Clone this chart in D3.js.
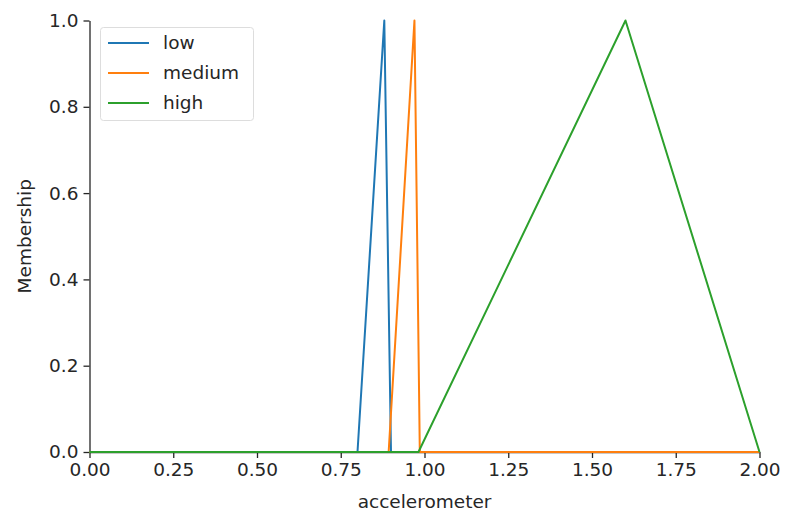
<!DOCTYPE html>
<meta charset="utf-8">
<head>
    <title>Membership</title>
    <style>
        body { margin: 0; background: #fff; }
        svg { display: block; font-family: "DejaVu Sans", sans-serif; }
    </style>
</head>
<body>
<svg width="788" height="518"></svg>
<script src="https://d3js.org/d3.v7.min.js"></script>
<script>

    // breakpoints of each membership function (x, membership)
    var lowX = [0, 0.8, 0.88, 0.9, 2.0];
    var lowY = [0, 0, 1, 0, 0];
    var mediumX = [0, 0.893, 0.97, 0.986, 2.0];
    var mediumY = [0, 0, 1, 0, 0];
    var highX = [0, 0.982, 1.6, 2.0];
    var highY = [0, 0, 1, 0];

    var names = ["low", "medium", "high"];
    var colors = ["#1f77b4", "#ff7f0e", "#2ca02c"];
    var xTicks = [0, 0.25, 0.5, 0.75, 1.0, 1.25, 1.5, 1.75, 2.0];
    var yTicks = [0, 0.2, 0.4, 0.6, 0.8, 1.0];

    var svg = d3.select("svg");
    var fontSize = 18.5;
    var plotLeft = 89.5, plotRight = 759.5, plotTop = 20.5, plotBottom = 452;

    var x = d3.scaleLinear().domain([0, 2]).range([plotLeft, plotRight]);
    var y = d3.scaleLinear().domain([0, 1]).range([plotBottom, plotTop]);

    var series = [
        {xs: lowX, ys: lowY},
        {xs: mediumX, ys: mediumY},
        {xs: highX, ys: highY}
    ];

    var line = d3.line()
            .x(function(d) { return x(d[0]); })
            .y(function(d) { return y(d[1]); });

    //axes
    var xAxis = svg.append("g")
            .attr("transform", "translate(0," + plotBottom + ")")
            .call(d3.axisBottom(x).tickValues(xTicks).tickFormat(d3.format(".2f"))
                    .tickSizeInner(6).tickSizeOuter(0).tickPadding(5));
    var yAxis = svg.append("g")
            .attr("transform", "translate(" + plotLeft + ",0)")
            .call(d3.axisLeft(y).tickValues(yTicks).tickFormat(d3.format(".1f"))
                    .tickSizeInner(6).tickSizeOuter(0).tickPadding(5));

    [xAxis, yAxis].forEach(function(a) {
        a.selectAll("text").attr("font-size", fontSize).attr("fill", "#262626")
                .attr("font-family", "DejaVu Sans");
        a.selectAll("line, path").attr("stroke", "#262626").attr("stroke-width", 1.3);
    });

    //draw lines
    svg.append("g").selectAll("path")
            .data(series)
            .enter().append("path")
            .attr("d", function(s) { return line(d3.zip(s.xs, s.ys)); })
            .attr("fill", "none")
            .attr("stroke", function(s, i) { return colors[i]; })
            .attr("stroke-width", 2)
            .attr("stroke-linejoin", "round");

    //axis labels
    svg.append("text")
            .attr("x", (plotLeft + plotRight) / 2)
            .attr("y", 508)
            .attr("text-anchor", "middle")
            .attr("font-size", fontSize)
            .attr("fill", "#262626")
            .text("accelerometer");

    svg.append("text")
            .attr("transform", "translate(31," + ((plotTop + plotBottom) / 2) + ") rotate(-90)")
            .attr("text-anchor", "middle")
            .attr("font-size", fontSize)
            .attr("fill", "#262626")
            .text("Membership");

    //legend
    var legend = svg.append("g").attr("transform", "translate(100,27)");
    legend.append("rect")
            .attr("x", 0.5).attr("y", 0.5)
            .attr("width", 153).attr("height", 93)
            .attr("rx", 3)
            .attr("fill", "#fff")
            .attr("fill-opacity", 0.8)
            .attr("stroke", "#dddddd");

    var item = legend.selectAll("g.item")
            .data(names)
            .enter().append("g")
            .attr("class", "item")
            .attr("transform", function(d, i) { return "translate(0," + (16 + i * 30) + ")"; });
    item.append("line")
            .attr("x1", 8).attr("x2", 49)
            .attr("stroke", function(d, i) { return colors[i]; })
            .attr("stroke-width", 2);
    item.append("text")
            .attr("x", 63).attr("y", 6)
            .attr("font-size", fontSize)
            .attr("fill", "#262626")
            .text(function(d) { return d; });
</script>
</body>
